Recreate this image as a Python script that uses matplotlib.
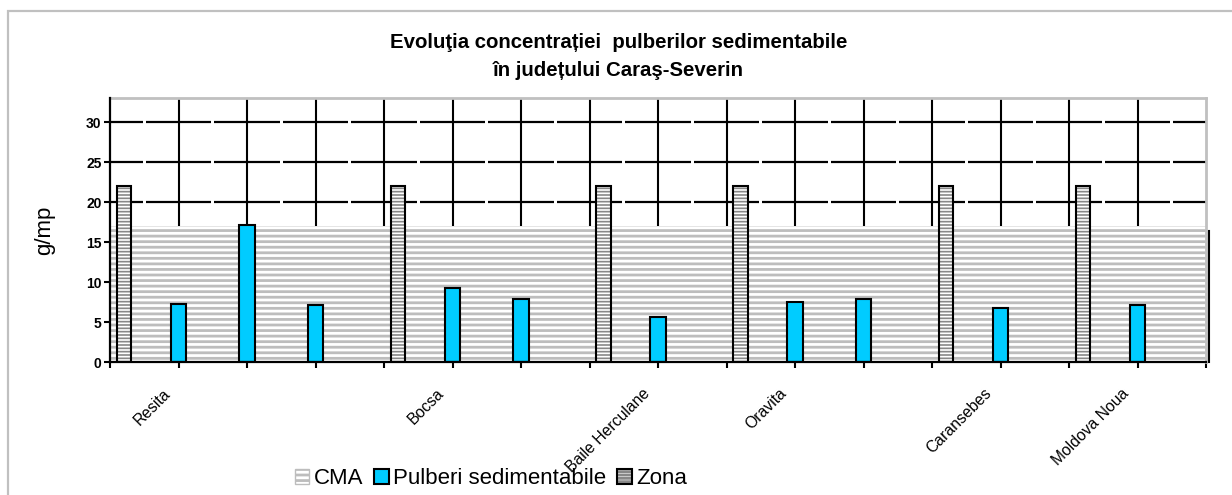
import numpy as np
import matplotlib
matplotlib.use("Agg")
import matplotlib.pyplot as plt
from matplotlib.patches import Patch, Rectangle
from matplotlib.legend_handler import HandlerTuple

plt.rcParams['font.family'] = ['Liberation Sans', 'DejaVu Sans']
plt.rcParams['hatch.linewidth'] = 2.0

# data
categories = ['Resita', '', '', '', 'Bocsa', '', '', 'Baile Herculane', '',
              'Oravita', '', '', 'Caransebes', '', 'Moldova Noua', '']
zona = [22, np.nan, np.nan, np.nan, 22, np.nan, np.nan, 22, np.nan,
        22, np.nan, np.nan, 22, np.nan, 22, np.nan]
pulberi = [np.nan, 7.3, 17.1, 7.1, np.nan, 9.3, 7.9, np.nan, 5.6,
           np.nan, 7.5, 7.85, np.nan, 6.8, np.nan, 7.1]
cma = 17
yticks = [0, 5, 10, 15, 20, 25, 30]

n = len(categories)
idx = np.arange(n)
cyan = '#00ccff'
stripe = '#bdbdbd'
zstripe = '#888888'


def thin_hatch(patches, lw=1.2):
    # finer hatch lines for the Zona bars
    for p in patches:
        if hasattr(p, 'set_hatch_linewidth'):
            p.set_hatch_linewidth(lw)


fig = plt.figure(figsize=(12.32, 4.95), dpi=100)
ax = fig.add_axes([110/1232, 1 - 362/495, 1096/1232, 264/495])

# outer chart frame
fig.patches.append(Rectangle((8/1232, -0.2), 1.2, 1.2 - 11/495, transform=fig.transFigure,
                             fill=False, edgecolor='#c0c0c0', lw=1.6, zorder=0))

# grid: solid verticals at category edges, dashed horizontals broken at category centers
for k in range(1, n):
    ax.axvline(k, color='black', lw=1.5, zorder=1)
gap = 0.025
for y in yticks[1:]:
    for k in range(n + 1):
        x0 = max(0, k - 0.5 + gap)
        x1 = min(n, k + 0.5 - gap)
        ax.plot([x0, x1], [y, y], color='black', lw=1.6, solid_capstyle='butt', zorder=1)

# CMA band across the whole width
ax.bar(0, cma, width=n, align='edge', facecolor='white', edgecolor=stripe,
       hatch='---', lw=0, zorder=2)
ax.plot([n + 0.04, n + 0.04], [0, cma - 0.6], color='black', lw=1.5, clip_on=False, zorder=5)

# Zona bars (hatched, black outline)
zx = idx + 0.205
zb = ax.bar(zx, zona, width=0.21, facecolor='white', edgecolor=zstripe, hatch='-----',
            lw=0, zorder=3)
thin_hatch(zb)
ax.bar(zx, zona, width=0.21, fill=False, edgecolor='black', lw=1.5, zorder=4)

# Pulberi sedimentabile bars
ax.bar(idx, pulberi, width=0.23, facecolor=cyan, edgecolor='black', lw=1.5, zorder=4)

ax.set_xlim(0, n)
ax.set_ylim(0, 33)
ax.set_yticks(yticks)
ax.set_yticklabels([str(v) for v in yticks], fontsize=10, fontweight='bold')
ax.set_xticks(np.arange(n + 1))
ax.set_xticklabels([])
ax.tick_params(axis='both', direction='out', length=4, width=1.5, color='black')
ax.tick_params(axis='y', pad=2)

lab_pos = idx + 0.84
ax.set_xticks(lab_pos, minor=True)
ax.set_xticklabels(categories, minor=True, rotation=45, ha='right', va='center',
                   rotation_mode='anchor', fontsize=11.3)
ax.tick_params(axis='x', which='minor', length=0, pad=21)

for s in ['left', 'bottom']:
    ax.spines[s].set_color('black')
    ax.spines[s].set_linewidth(1.6)
for s in ['top', 'right']:
    ax.spines[s].set_color('#c0c0c0')
    ax.spines[s].set_linewidth(2)
ax.spines['left'].set_zorder(6)
ax.spines['bottom'].set_zorder(6)

ax.set_ylabel('g/mp', fontsize=16)
ax.yaxis.set_label_coords(-0.05, 0.5)

fig.text(0.502, 1 - 43/495, 'Evoluţia concentrației  pulberilor sedimentabile',
         ha='center', va='center', fontsize=14.7, fontweight='bold')
fig.text(0.502, 1 - 70/495, 'în județului Caraş-Severin',
         ha='center', va='center', fontsize=14.7, fontweight='bold')

h_cma = Patch(facecolor='white', edgecolor=stripe, hatch='---', lw=1)
h_pul = Patch(facecolor=cyan, edgecolor='black', lw=1.5)
h_z1 = Patch(facecolor='white', edgecolor=zstripe, hatch='-----', lw=0)
thin_hatch([h_z1])
h_z2 = Patch(fill=False, edgecolor='black', lw=1.5)
fig.legend([h_cma, h_pul, (h_z1, h_z2)], ['CMA', 'Pulberi sedimentabile', 'Zona'],
           handler_map={tuple: HandlerTuple(ndivide=1)},
           loc='center', bbox_to_anchor=(491/1232, 16/495), ncol=3, frameon=False,
           fontsize=16, handlelength=0.65, handleheight=0.65, handletextpad=0.2,
           columnspacing=0.5, borderaxespad=0)

fig.savefig('out.png', dpi=100)
